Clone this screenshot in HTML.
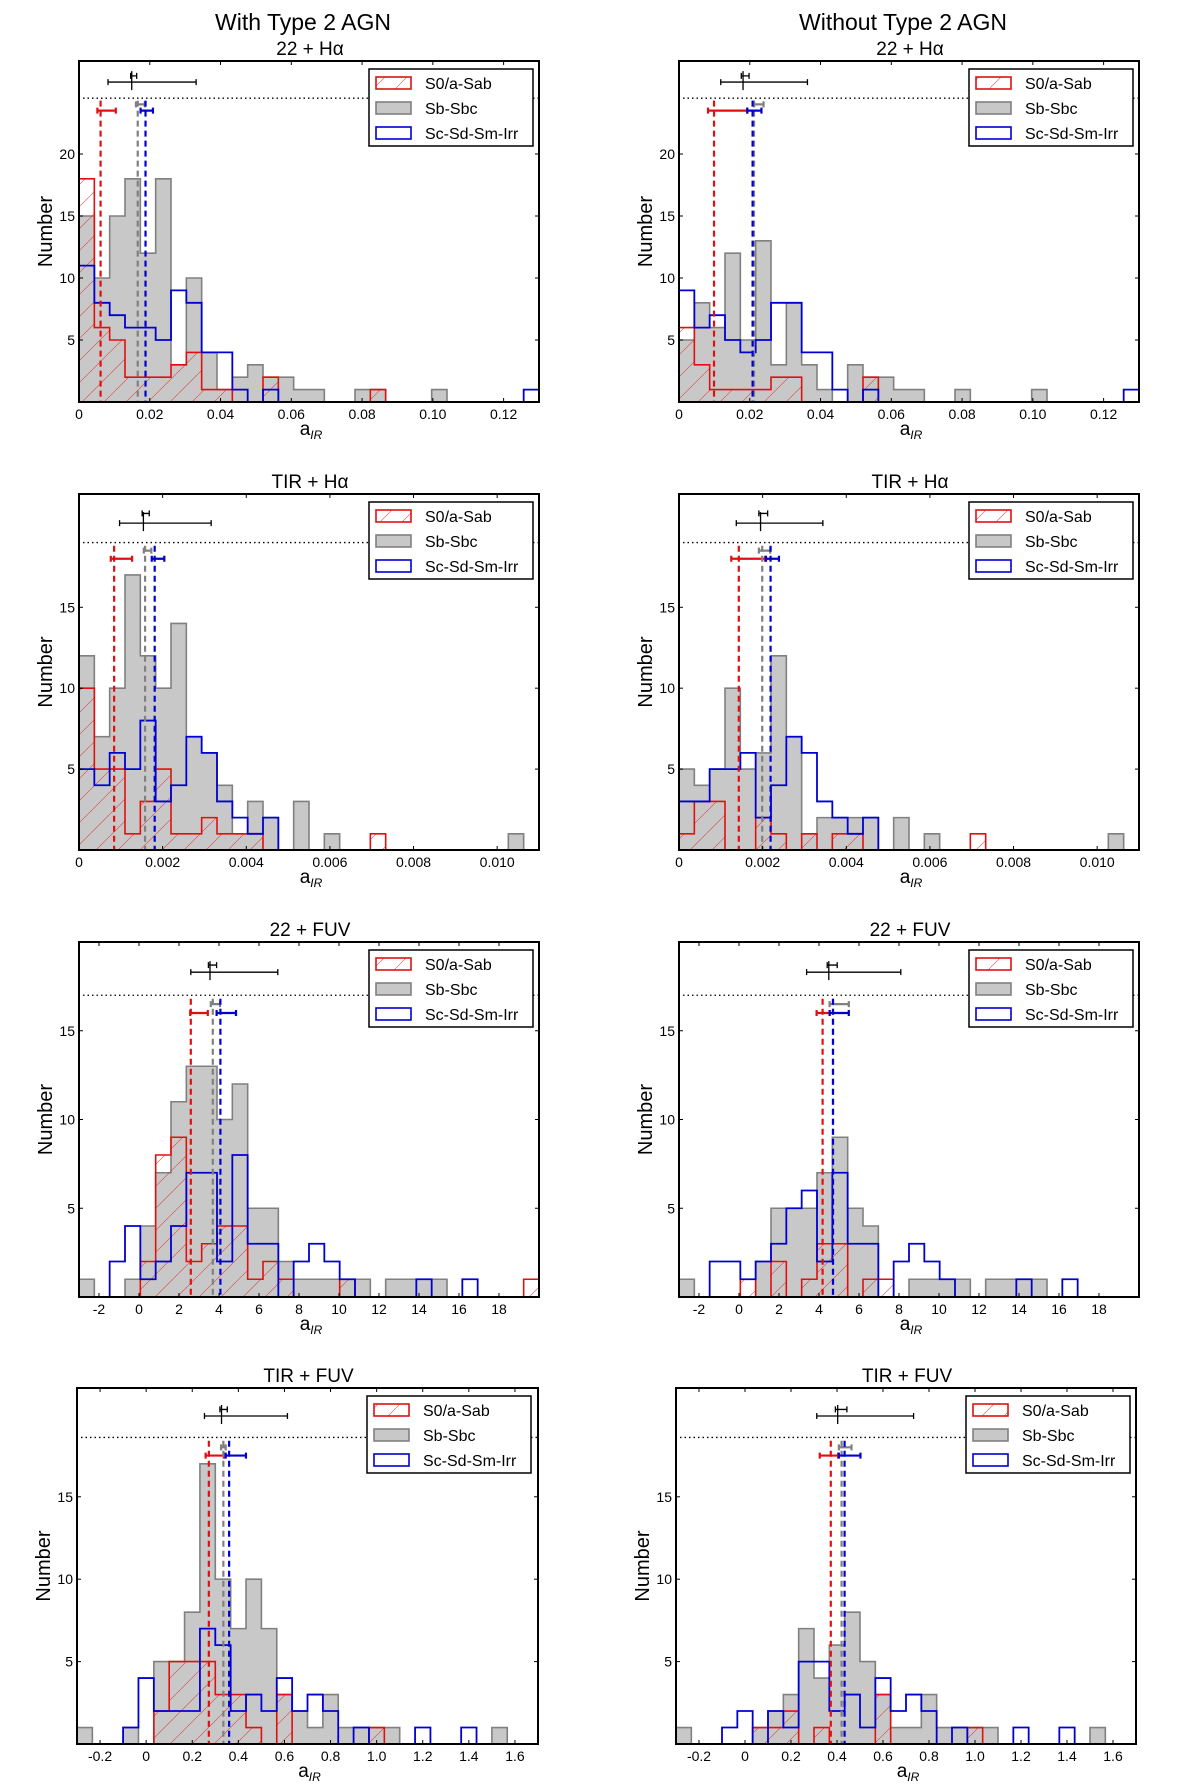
<!DOCTYPE html>
<html><head><meta charset="utf-8"><style>
html,body{margin:0;padding:0;background:#fff;}
svg{display:block;font-family:"Liberation Sans",sans-serif;}
</style></head><body>
<svg id="fig" width="1200" height="1789" viewBox="0 0 1200 1789" xmlns="http://www.w3.org/2000/svg">
<defs>
<pattern id="hatch" patternUnits="userSpaceOnUse" width="22" height="22">
<path d="M-1,23 L23,-1" stroke="#d22" stroke-width="0.6" fill="none" stroke-opacity="0.8"/>
</pattern>
</defs>
<text x="303" y="30" font-size="23" text-anchor="middle">With Type 2 AGN</text>
<text x="903" y="30" font-size="23" text-anchor="middle">Without Type 2 AGN</text>
</svg>
<script>
// ---- data (counts per bin, 30 equal bins across axis range) ----
const p1Gray=[15,10,15,18,12,18,3,10,4,1,2,3,2,2,1,1,0,0,1,1,0,0,0,1,0,0,0,0,0,0];
const p1Red=[18,6,5,2,2,2,3,4,1,1,0,0,2,0,0,0,0,0,0,1,0,0,0,0,0,0,0,0,0,0];
const p1Blue=[11,8,7,6,6,5,9,8,4,4,1,0,1,0,0,0,0,0,0,0,0,0,0,0,0,0,0,0,0,1];
const p2Gray=[5,8,6,12,5,13,3,8,3,1,0,3,2,2,1,1,0,0,1,0,0,0,0,1,0,0,0,0,0,0];
const p2Red=[6,3,1,1,1,1,2,2,0,0,0,0,2,0,0,0,0,0,0,0,0,0,0,0,0,0,0,0,0,0];
const p2Blue=[9,6,7,5,4,5,8,8,4,4,1,0,1,0,0,0,0,0,0,0,0,0,0,0,0,0,0,0,0,1];
const p3Gray=[12,7,10,17,12,10,14,7,6,4,1,3,2,0,3,0,1,0,0,0,0,0,0,0,0,0,0,0,1,0];
const p3Red=[10,5,5,1,3,5,1,1,2,1,1,1,0,0,0,0,0,0,0,1,0,0,0,0,0,0,0,0,0,0];
const p3Blue=[5,4,6,5,8,3,4,7,6,3,2,1,2,0,0,0,0,0,0,0,0,0,0,0,0,0,0,0,0,0];
const p4Gray=[5,4,5,10,5,6,12,7,1,2,2,2,2,0,2,0,1,0,0,0,0,0,0,0,0,0,0,0,1,0];
const p4Red=[1,3,3,0,0,2,1,0,1,0,1,1,0,0,0,0,0,0,0,1,0,0,0,0,0,0,0,0,0,0];
const p4Blue=[3,3,5,5,6,2,4,7,6,3,2,1,2,0,0,0,0,0,0,0,0,0,0,0,0,0,0,0,0,0];
const p5Gray=[1,0,0,1,4,7,11,13,13,10,12,5,5,2,1,1,1,1,1,0,1,1,1,1,0,0,0,0,0,0];
const p5Red=[0,0,0,0,2,8,9,2,3,4,4,1,2,1,0,0,0,1,0,0,0,0,0,0,0,0,0,0,0,1];
const p5Blue=[0,0,2,4,1,2,4,7,7,2,8,3,3,0,2,3,2,1,0,0,0,0,1,0,0,1,0,0,0,0];
const p6Gray=[1,0,0,0,0,2,5,5,5,7,9,5,4,0,0,1,1,1,1,0,1,1,1,1,0,0,0,0,0,0];
const p6Red=[0,0,0,0,1,0,2,0,1,3,3,0,1,1,0,0,0,0,0,0,0,0,0,0,0,0,0,0,0,0];
const p6Blue=[0,0,2,2,1,2,3,5,6,2,7,3,3,0,2,3,2,1,0,0,0,0,1,0,0,1,0,0,0,0];
const p7Gray=[1,0,0,1,0,5,5,8,17,10,7,10,7,3,2,1,3,1,1,1,1,0,0,0,0,0,0,1,0,0];
const p7Red=[0,0,0,0,0,2,5,5,5,3,3,1,0,3,0,0,0,0,0,1,0,0,0,0,0,0,0,0,0,0];
const p7Blue=[0,0,0,1,4,2,2,2,7,6,2,3,2,4,2,3,2,0,1,0,0,0,1,0,0,1,0,0,0,0];
const p8Gray=[1,0,0,0,0,1,2,3,7,4,6,8,5,3,1,1,3,1,1,1,1,0,0,0,0,0,0,1,0,0];
const p8Red=[0,0,0,0,0,1,1,2,0,1,0,0,0,3,0,0,0,0,0,1,0,0,0,0,0,0,0,0,0,0];
const p8Blue=[0,0,0,1,2,0,2,1,5,5,2,3,1,4,2,3,2,0,1,0,0,0,1,0,0,1,0,0,0,0];
// means [red, gray, blue] and error bars [lo, hi]
const p1Means=[0.0061,0.0166,0.0188]; const p1Errs=[[0.0052,0.0104],[0.0161,0.0186],[0.0174,0.0209]]; const p1All=[0.0149,0.0082,0.0331,0.0146,0.0163];
const p2Means=[0.0099,0.0212,0.0208]; const p2Errs=[[0.0082,0.0193],[0.0212,0.0239],[0.0193,0.0233]]; const p2All=[0.0181,0.0118,0.0363,0.0176,0.0198];
const p3Means=[0.00084,0.00158,0.00181]; const p3Errs=[[0.00076,0.00127],[0.00155,0.00173],[0.00174,0.00204]]; const p3All=[0.00154,0.00097,0.00316,0.00151,0.00168];
const p4Means=[0.00143,0.00199,0.00219]; const p4Errs=[[0.00125,0.00206],[0.00191,0.00218],[0.00208,0.00239]]; const p4All=[0.00195,0.00137,0.00344,0.00191,0.00212];
const p5Means=[2.59,3.69,4.07]; const p5Errs=[[2.56,3.44],[3.59,4.05],[3.88,4.85]]; const p5All=[3.55,2.59,6.94,3.47,3.88];
const p6Means=[4.18,4.70,4.70]; const p6Errs=[[3.88,4.53],[4.53,5.49],[4.53,5.49]]; const p6All=[4.49,3.38,8.09,4.41,4.91];
const p7Means=[0.272,0.335,0.36]; const p7Errs=[[0.258,0.337],[0.325,0.345],[0.345,0.433]]; const p7All=[0.327,0.253,0.613,0.32,0.352];
const p8Means=[0.373,0.42,0.433]; const p8Errs=[[0.325,0.405],[0.408,0.463],[0.408,0.502]]; const p8All=[0.403,0.312,0.733,0.393,0.443];
// ticks
const xTicks1=[0,0.02,0.04,0.06,0.08,0.10,0.12]; const xLabels1=["0","0.02","0.04","0.06","0.08","0.10","0.12"];
const xTicks2=[0,0.002,0.004,0.006,0.008,0.010]; const xLabels2=["0","0.002","0.004","0.006","0.008","0.010"];
const xTicks3=[-2,0,2,4,6,8,10,12,14,16,18]; const xLabels3=["-2","0","2","4","6","8","10","12","14","16","18"];
const xTicks4=[-0.2,0,0.2,0.4,0.6,0.8,1.0,1.2,1.4,1.6]; const xLabels4=["-0.2","0","0.2","0.4","0.6","0.8","1.0","1.2","1.4","1.6"];
const yTicks1=[5,10,15,20]; const yTicks2=[5,10,15];
const subtitles=["22 + H\u03b1","TIR + H\u03b1","22 + FUV","TIR + FUV"];

const NS="http://www.w3.org/2000/svg";
const svg=document.getElementById('fig');
function mk(tag,attrs,parent){const e=document.createElementNS(NS,tag);for(const k in attrs)e.setAttribute(k,attrs[k]);(parent||svg).appendChild(e);return e;}

const panels=[
 {name:'p1',x:79,y:61,w:460,h:341,xmin:0,xmax:0.13,ymax:27.5,dot:24.5,errY:23.5,gErrY:24.0,allY:25.8,smY:26.3,gray:p1Gray,red:p1Red,blue:p1Blue,means:p1Means,errs:p1Errs,all:p1All,xt:xTicks1,xl:xLabels1,yt:yTicks1,sub:0},
 {name:'p2',x:679,y:61,w:460,h:341,xmin:0,xmax:0.13,ymax:27.5,dot:24.5,errY:23.5,gErrY:24.0,allY:25.8,smY:26.3,gray:p2Gray,red:p2Red,blue:p2Blue,means:p2Means,errs:p2Errs,all:p2All,xt:xTicks1,xl:xLabels1,yt:yTicks1,sub:0},
 {name:'p3',x:79,y:494,w:460,h:356,xmin:0,xmax:0.011,ymax:22,dot:19,errY:18,gErrY:18.5,allY:20.2,smY:20.8,gray:p3Gray,red:p3Red,blue:p3Blue,means:p3Means,errs:p3Errs,all:p3All,xt:xTicks2,xl:xLabels2,yt:yTicks2,sub:1},
 {name:'p4',x:679,y:494,w:460,h:356,xmin:0,xmax:0.011,ymax:22,dot:19,errY:18,gErrY:18.5,allY:20.2,smY:20.8,gray:p4Gray,red:p4Red,blue:p4Blue,means:p4Means,errs:p4Errs,all:p4All,xt:xTicks2,xl:xLabels2,yt:yTicks2,sub:1},
 {name:'p5',x:79,y:942,w:460,h:355,xmin:-3,xmax:20,ymax:20,dot:17,errY:16,gErrY:16.5,allY:18.3,smY:18.7,gray:p5Gray,red:p5Red,blue:p5Blue,means:p5Means,errs:p5Errs,all:p5All,xt:xTicks3,xl:xLabels3,yt:yTicks2,sub:2},
 {name:'p6',x:679,y:942,w:460,h:355,xmin:-3,xmax:20,ymax:20,dot:17,errY:16,gErrY:16.5,allY:18.3,smY:18.7,gray:p6Gray,red:p6Red,blue:p6Blue,means:p6Means,errs:p6Errs,all:p6All,xt:xTicks3,xl:xLabels3,yt:yTicks2,sub:2},
 {name:'p7',x:77,y:1388,w:461,h:356,xmin:-0.3,xmax:1.7,ymax:21.6,dot:18.6,errY:17.5,gErrY:18.0,allY:19.9,smY:20.3,gray:p7Gray,red:p7Red,blue:p7Blue,means:p7Means,errs:p7Errs,all:p7All,xt:xTicks4,xl:xLabels4,yt:yTicks2,sub:3},
 {name:'p8',x:676,y:1388,w:460,h:356,xmin:-0.3,xmax:1.7,ymax:21.6,dot:18.6,errY:17.5,gErrY:18.0,allY:19.9,smY:20.3,gray:p8Gray,red:p8Red,blue:p8Blue,means:p8Means,errs:p8Errs,all:p8All,xt:xTicks4,xl:xLabels4,yt:yTicks2,sub:3}
];

function stepPath(counts,X,Y,xmin,bw){
  let d='M'+X(xmin)+','+Y(0);
  for(let i=0;i<counts.length;i++){
    const a=X(xmin+i*bw),b=X(xmin+(i+1)*bw);
    d+=' L'+a+','+Y(counts[i])+' L'+b+','+Y(counts[i]);
  }
  d+=' L'+X(xmin+counts.length*bw)+','+Y(0)+' Z';
  return d;
}

panels.forEach(p=>{
  const g=mk('g',{});
  
  
  const X=v=>p.x+(v-p.xmin)/(p.xmax-p.xmin)*p.w;
  const Y=v=>p.y+p.h-v/p.ymax*p.h;
  const bw=(p.xmax-p.xmin)/30;
  const cp='clip-'+p.name;
  const c=mk('clipPath',{id:cp},g); mk('rect',{x:p.x,y:p.y,width:p.w,height:p.h},c);
  const hg=mk('g',{'clip-path':'url(#'+cp+')'},g);
  const gp=mk('path',{d:stepPath(p.gray,X,Y,p.xmin,bw),fill:'#c8c8c8',stroke:'#808080','stroke-width':1.6},hg);
  
  
  const rp=mk('path',{d:stepPath(p.red,X,Y,p.xmin,bw),fill:'url(#hatch)',stroke:'#e01010','stroke-width':1.6},hg);
  
  
  const bp=mk('path',{d:stepPath(p.blue,X,Y,p.xmin,bw),fill:'none',stroke:'#0000d0','stroke-width':1.8},hg);
  
  
  const dl=mk('line',{x1:p.x+4,x2:p.x+p.w,y1:Y(p.dot),y2:Y(p.dot),stroke:'#000','stroke-width':1.3,'stroke-dasharray':'1.5,3'},g);
  
  
  const cols=['#e01010','#808080','#0000d0'];
  const nm=['red','gray','blue'];
  for(let k=0;k<3;k++){
    const m=mk('line',{x1:X(p.means[k]),x2:X(p.means[k]),y1:Y(p.dot-0.2),y2:Y(0),stroke:cols[k],'stroke-width':2.2,'stroke-dasharray':'6,4'},g);
    
    
    const ey=k===1?Y(p.gErrY):Y(p.errY);
    const e=mk('path',{d:'M'+X(p.errs[k][0])+','+ey+' L'+X(p.errs[k][1])+','+ey+' M'+X(p.errs[k][0])+','+(ey-3)+' L'+X(p.errs[k][0])+','+(ey+3)+' M'+X(p.errs[k][1])+','+(ey-3)+' L'+X(p.errs[k][1])+','+(ey+3),stroke:cols[k],'stroke-width':2.2,fill:'none'},g);
    
    
  }
  const ay=Y(p.allY), sy=Y(p.smY), ax=X(p.all[0]);
  const ab=mk('path',{d:'M'+X(p.all[1])+','+ay+' L'+X(p.all[2])+','+ay+' M'+X(p.all[1])+','+(ay-3)+' L'+X(p.all[1])+','+(ay+3)+' M'+X(p.all[2])+','+(ay-3)+' L'+X(p.all[2])+','+(ay+3)+' M'+ax+','+(ay-11)+' L'+ax+','+(ay+8)+' M'+X(p.all[3])+','+sy+' L'+X(p.all[4])+','+sy+' M'+X(p.all[3])+','+(sy-3)+' L'+X(p.all[3])+','+(sy+3)+' M'+X(p.all[4])+','+(sy-3)+' L'+X(p.all[4])+','+(sy+3),stroke:'#000','stroke-width':1.3,fill:'none'},g);
  
  
  const fr=mk('rect',{x:p.x,y:p.y,width:p.w,height:p.h,fill:'none',stroke:'#000','stroke-width':2},g);
  
  
  p.xt.forEach((t,i)=>{
    const x=X(t);
    mk('line',{x1:x,x2:x,y1:p.y+p.h,y2:p.y+p.h-4,stroke:'#000','stroke-width':1},g);
    mk('line',{x1:x,x2:x,y1:p.y,y2:p.y+4,stroke:'#000','stroke-width':1},g);
    const tl=mk('text',{x:x,y:p.y+p.h+17,'font-size':14,'text-anchor':'middle'},g);
    tl.textContent=p.xl[i];
    
    
  });
  p.yt.forEach(t=>{
    const y=Y(t);
    mk('line',{x1:p.x,x2:p.x+4,y1:y,y2:y,stroke:'#000','stroke-width':1},g);
    mk('line',{x1:p.x+p.w,x2:p.x+p.w-4,y1:y,y2:y,stroke:'#000','stroke-width':1},g);
    const tl=mk('text',{x:p.x-4,y:y+5,'font-size':14,'text-anchor':'end'},g);
    tl.textContent=String(t);
    
    
  });
  const yl=mk('text',{x:0,y:0,'font-size':20,'text-anchor':'middle',transform:'translate('+(p.x-27)+','+(p.y+p.h*0.5)+') rotate(-90)'},g);
  yl.textContent='Number';
  
  
  const xl=mk('text',{x:p.x+p.w/2+2,y:p.y+p.h+33,'font-size':19,'text-anchor':'middle'},g);
  xl.innerHTML='a<tspan font-size="12" font-style="italic" dy="4">IR</tspan>';
  
  
  const st=mk('text',{x:p.x+p.w/2+1,y:p.y-6,'font-size':19,'text-anchor':'middle'},g);
  st.textContent=subtitles[p.sub];
  
  
  const lx=p.x+290, ly=p.y+8;
  const lg=mk('g',{},g);
  
  
  mk('rect',{x:lx,y:ly,width:164,height:77,fill:'#fff',stroke:'#000','stroke-width':1.5},lg);
  const ent=[['S0/a-Sab','url(#hatch)','#e01010'],['Sb-Sbc','#c8c8c8','#808080'],['Sc-Sd-Sm-Irr','#fff','#0000d0']];
  ent.forEach((e,i)=>{
    const cy=ly+14+i*25;
    const le=mk('g',{},lg);
    
    
    mk('rect',{x:lx+7,y:cy-6,width:35,height:12,fill:e[1],stroke:e[2],'stroke-width':1.6},le);
    const t=mk('text',{x:lx+56,y:cy+6,'font-size':16},le);
    t.textContent=e[0];
  });
});
</script>
</body></html>
